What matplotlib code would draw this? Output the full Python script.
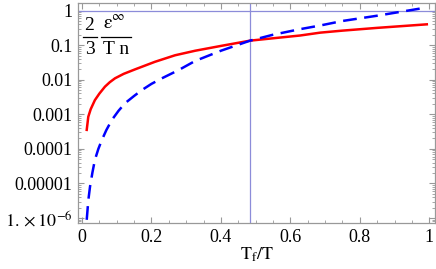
"""
2/3 eps_inf/(T n) 随 T_f/T 的变化
"""
import matplotlib
matplotlib.use("Agg")
import matplotlib.pyplot as plt
import matplotlib.ticker as mticker
from matplotlib.lines import Line2D
import numpy as np

# 红色实线
red_x = [0.0135, 0.018, 0.025, 0.037, 0.05, 0.066, 0.08, 0.095, 0.12, 0.153, 0.21,
         0.268, 0.326, 0.40, 0.484, 0.55, 0.628, 0.686, 0.75, 0.85, 0.993]
red_y = [3.55e-4, 8.5e-4, 1.41e-3, 2.57e-3, 3.98e-3, 6.3e-3, 8.5e-3, 0.011, 0.0148, 0.020, 0.033,
         0.051, 0.069, 0.095, 0.135, 0.158, 0.19, 0.23, 0.263, 0.316, 0.40]

# 蓝色虚线
blue_x = [0.0135, 0.018, 0.023, 0.03, 0.037, 0.047, 0.057, 0.07, 0.086, 0.105, 0.124, 0.15,
          0.172, 0.2, 0.23, 0.278, 0.326, 0.40, 0.484, 0.55, 0.628, 0.686, 0.75, 0.85, 0.993]
blue_y = [8.9e-7, 3.2e-6, 8.1e-6, 2.1e-5, 4.8e-5, 1.0e-4, 1.8e-4, 3.5e-4, 6.9e-4, 1.26e-3, 2.1e-3, 3.4e-3,
          5.0e-3, 7.6e-3, 0.011, 0.019, 0.035, 0.069, 0.135, 0.20, 0.29, 0.37, 0.50, 0.71, 1.23]

x_ticks = [0, 0.2, 0.4, 0.6, 0.8, 1]
x_tick_labels = ["0", "0.2", "0.4", "0.6", "0.8", "1"]
y_ticks = [1e-6, 1e-5, 1e-4, 1e-3, 1e-2, 0.1, 1]
y_tick_labels = [r"$1.\times10^{-6}$", "0.00001", "0.0001", "0.001", "0.01", "0.1", "1"]

x_cross = 0.484  # 两条曲线相交处
y_ref = 1.0

plt.rcParams['font.family'] = ['Liberation Serif', 'DejaVu Serif']
plt.rcParams['mathtext.fontset'] = 'stix'

W, H = 436, 269
fig = plt.figure(figsize=(W / 100, H / 100), dpi=100)
ax = fig.add_axes([0.179, 0.171, 0.819, 0.818])

ax.axhline(y_ref, color="#8c8cd9", lw=0.9)
ax.axvline(x_cross, color="#8c8cd9", lw=0.9)

ax.plot(red_x, red_y, color="red", lw=1.8)
ax.plot(blue_x, blue_y, color="blue", lw=1.8, dashes=(5.5, 3))

ax.set_yscale("log")
ax.set_xlim(-0.0115, 1.017)
ax.set_ylim(7.2e-7, 1.66)

ax.set_xticks(x_ticks)
ax.set_xticklabels(x_tick_labels)
ax.set_yticks(y_ticks)
ax.set_yticklabels(y_tick_labels)
ax.xaxis.set_minor_locator(mticker.MultipleLocator(0.05))
ax.yaxis.set_minor_locator(mticker.LogLocator(base=10, subs=np.arange(2, 10), numticks=20))
ax.yaxis.set_minor_formatter(mticker.NullFormatter())

for s in ax.spines.values():
    s.set_color("#999999")
    s.set_linewidth(0.9)
ax.tick_params(which="both", direction="in", color="#999999", top=True, right=True,
               labelsize=13, pad=4)
ax.tick_params(which="major", length=4)
ax.tick_params(which="minor", length=2)

ax.set_xlabel(r"$\mathrm{T_f/T}$", fontsize=13, labelpad=0)


# 左上角的公式 2/3 * eps/(T n)，按像素位置摆放
def px(x, y):
    return x / W, 1 - y / H


fig.text(*px(89.5, 25), "2", fontsize=14, ha="center", va="center")
fig.text(*px(89.5, 49.5), "3", fontsize=14, ha="center", va="center")
fig.text(*px(114, 24), r"$\mathrm{\epsilon}^{\infty}$", fontsize=14, ha="center", va="center")
fig.text(*px(116.5, 49.5), "T n", fontsize=14, ha="center", va="center")
for x0, x1 in [(83, 97), (101, 131)]:
    fig.add_artist(Line2D([x0 / W, x1 / W], [1 - 36.7 / H] * 2, color="black", lw=0.9,
                          transform=fig.transFigure))

fig.savefig("out.png", dpi=100)
